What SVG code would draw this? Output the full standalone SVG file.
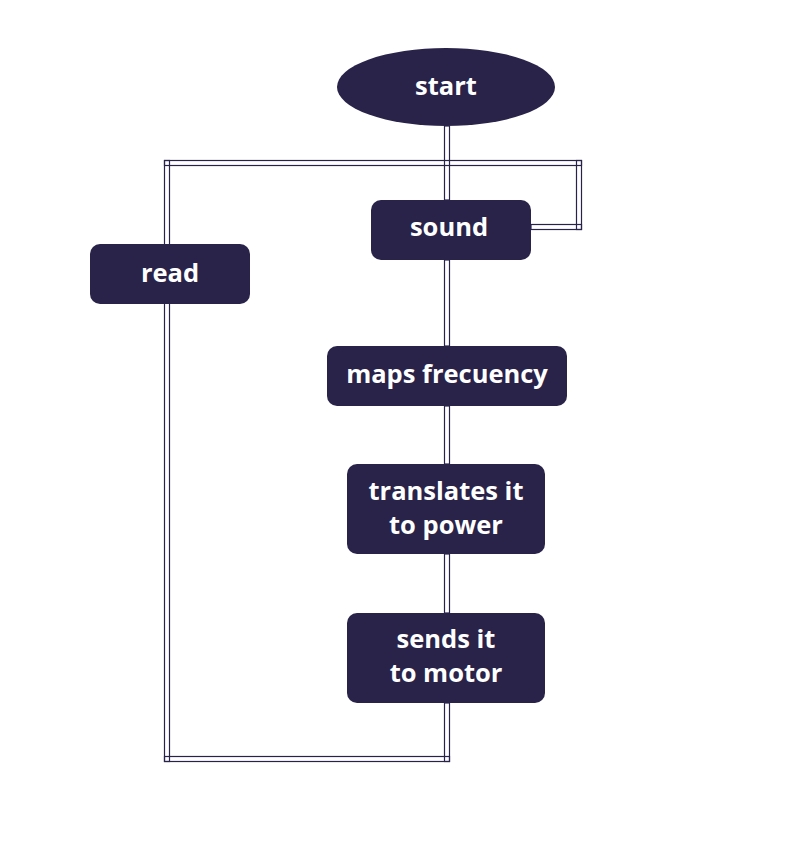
<svg xmlns="http://www.w3.org/2000/svg" width="789" height="853" viewBox="0 0 789 853">
<style>
.node{fill:#29234a;}
.lbl{fill:#ffffff;font-family:"Open Sans","Lato",sans-serif;font-weight:700;font-size:25.5px;text-anchor:middle;dominant-baseline:central;}
.c{fill:none;stroke:#29234a;stroke-width:1.2;}
</style>
<rect width="789" height="853" fill="#ffffff"/>
<g id="connectors">
<rect class="c" x="444.5" y="126" width="5" height="74"/>
<rect class="c" x="444.5" y="260" width="5" height="86"/>
<rect class="c" x="444.5" y="406" width="5" height="58"/>
<rect class="c" x="444.5" y="554" width="5" height="59"/>
<rect class="c" x="444.5" y="703" width="5" height="58.5"/>
<rect class="c" x="164.5" y="756.5" width="285" height="5"/>
<rect class="c" x="164.5" y="160.5" width="5" height="601"/>
<rect class="c" x="164.5" y="160.5" width="417" height="5"/>
<rect class="c" x="576.5" y="160.5" width="5" height="69"/>
<rect class="c" x="531" y="224.5" width="50.5" height="5"/>
</g>
<g id="start"><ellipse class="node" cx="446" cy="87" rx="109" ry="39"/><text class="lbl" x="446" y="85">start</text></g>
<g id="sound"><rect class="node" x="371" y="200" width="160" height="60" rx="10"/><text class="lbl" x="449" y="226">sound</text></g>
<g id="read"><rect class="node" x="90" y="244" width="160" height="60" rx="10"/><text class="lbl" x="170" y="272">read</text></g>
<g id="maps"><rect class="node" x="327" y="346" width="240" height="60" rx="10"/><text class="lbl" x="447" y="373">maps frecuency</text></g>
<g id="translates"><rect class="node" x="347" y="464" width="198" height="90" rx="10"/><text class="lbl" x="446" y="490">translates it</text><text class="lbl" x="446" y="524">to power</text></g>
<g id="sends"><rect class="node" x="347" y="613" width="198" height="90" rx="10"/><text class="lbl" x="446" y="638">sends it</text><text class="lbl" x="446" y="672">to motor</text></g>
</svg>
